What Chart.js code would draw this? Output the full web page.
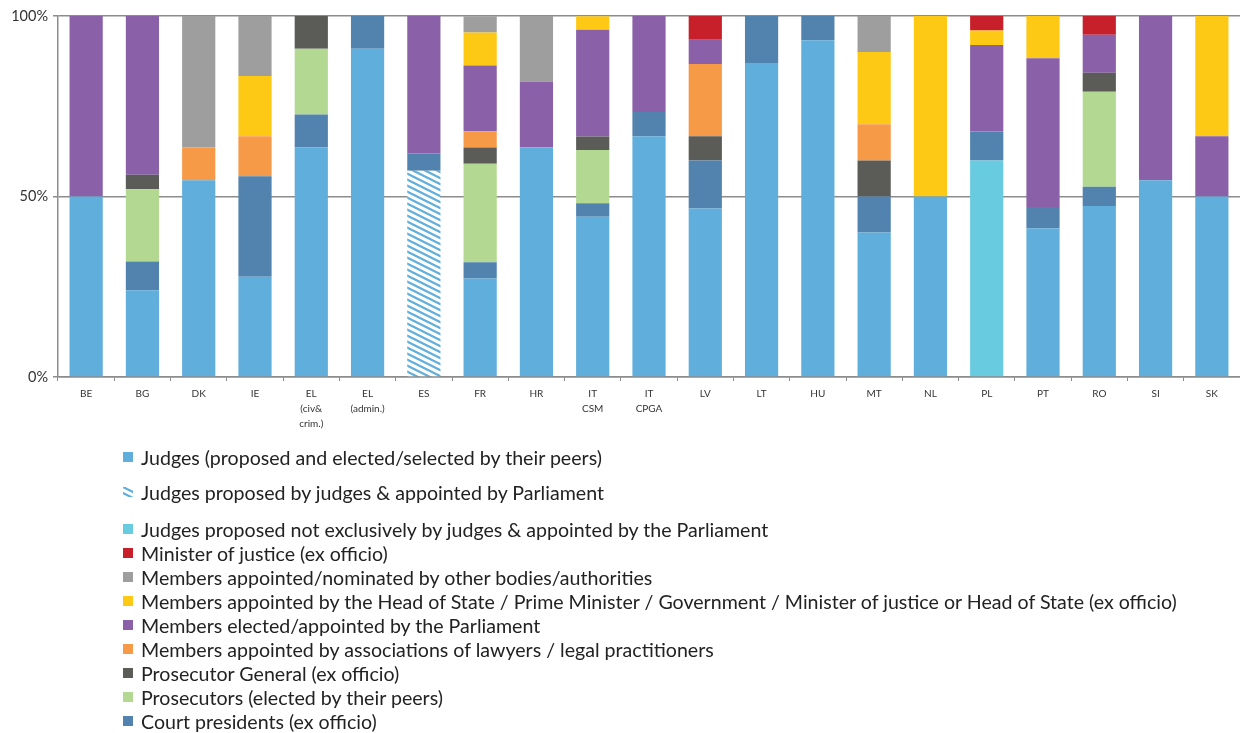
<!DOCTYPE html>
<html>
<head>
<meta charset="utf-8">
<title>Composition of Councils for the Judiciary</title>
<script src="https://cdn.jsdelivr.net/npm/chart.js@4.4.0/dist/chart.umd.min.js"></script>
<style>
  body { margin: 0; background: #fff; width: 1240px; height: 733px; overflow: hidden; font-family: Lato, 'Open Sans', sans-serif; }
  #wrap { position: absolute; left: 0; top: 0; width: 1240px; height: 440px; }
  #legend { position: absolute; left: 123px; top: 445px; margin: 0; padding: 0; list-style: none; }
  #legend li { height: 24px; font-size: 19.6px; color: #222; display: flex; align-items: center; white-space: nowrap; }
  #legend li canvas { margin-right: 8px; }
  #legend li:nth-child(1) { margin-bottom: 11px; }
  #legend li:nth-child(2) { margin-bottom: 13px; }
</style>
</head>
<body>
<div id="wrap"><canvas id="myChart" width="1240" height="440"></canvas></div>
<ul id="legend"></ul>
<script>
  // councils (x axis)
  const categories = ['BE', 'BG', 'DK', 'IE', ['EL', '(civ&', 'crim.)'], ['EL', '(admin.)'], 'ES', 'FR', 'HR',
    ['IT', 'CSM'], ['IT', 'CPGA'], 'LV', 'LT', 'HU', 'MT', 'NL', 'PL', 'PT', 'RO', 'SI', 'SK'];
  const yTicks = [0, 50, 100];

  // share of members per group, in % (same order as categories)
  //                        BE    BG    DK    IE    ELc   ELa   ES    FR    HR    ITcsm ITcpga LV   LT    HU    MT    NL    PL    PT    RO    SI    SK
  const judges =          [50,   24,   54.5, 27.8, 63.6, 90.9, 0,    27.3, 63.6, 44.4, 66.7, 46.7, 87,   93.3, 40,   50,   0,    41.2, 47.4, 54.5, 50];
  const judgesByParl =    [0,    0,    0,    0,    0,    0,    57.1, 0,    0,    0,    0,    0,    0,    0,    0,    0,    0,    0,    0,    0,    0];
  const judgesMixed =     [0,    0,    0,    0,    0,    0,    0,    0,    0,    0,    0,    0,    0,    0,    0,    0,    60,   0,    0,    0,    0];
  const courtPresidents = [0,    8,    0,    27.8, 9.1,  9.1,  4.8,  4.5,  0,    3.7,  6.7,  13.3, 13,   6.7,  10,   0,    8,    5.9,  5.3,  0,    0];
  const prosecutors =     [0,    20,   0,    0,    18.2, 0,    0,    27.3, 0,    14.8, 0,    0,    0,    0,    0,    0,    0,    0,    26.3, 0,    0];
  const prosecutorGen =   [0,    4,    0,    0,    9.1,  0,    0,    4.5,  0,    3.7,  0,    6.7,  0,    0,    10,   0,    0,    0,    5.3,  0,    0];
  const lawyers =         [0,    0,    9.1,  11.1, 0,    0,    0,    4.5,  0,    0,    0,    20,   0,    0,    10,   0,    0,    0,    0,    0,    0];
  const parliament =      [50,   44,   0,    0,    0,    0,    38.1, 18.2, 18.2, 29.6, 26.7, 6.7,  0,    0,    0,    0,    24,   41.2, 10.5, 45.5, 16.7];
  const headOfState =     [0,    0,    0,    16.7, 0,    0,    0,    9.1,  0,    3.7,  0,    0,    0,    0,    20,   50,   4,    11.8, 0,    0,    33.3];
  const otherBodies =     [0,    0,    36.4, 16.7, 0,    0,    0,    4.5,  18.2, 0,    0,    0,    0,    0,    10,   0,    0,    0,    0,    0,    0];
  const minister =        [0,    0,    0,    0,    0,    0,    0,    0,    0,    0,    0,    6.7,  0,    0,    0,    0,    4,    0,    5.3,  0,    0];

  // striped fill for judges proposed by judges & appointed by parliament
  function makeStripes(color) {
    const c = document.createElement('canvas');
    c.width = 12; c.height = 6;
    const g = c.getContext('2d');
    g.fillStyle = '#fff';
    g.fillRect(0, 0, 12, 6);
    g.strokeStyle = color;
    g.lineWidth = 2.2;
    [-6, 0, 6].forEach(function (off) {
      g.beginPath();
      g.moveTo(-2, off - 1);
      g.lineTo(14, off + 7);
      g.stroke();
    });
    return g.createPattern(c, 'repeat');
  }

  const blue = '#5faedb';

  // stacked bottom to top
  const datasets = [
    { label: 'Judges (proposed and elected/selected by their peers)', data: judges, backgroundColor: blue },
    { label: 'Judges proposed by judges & appointed by Parliament', data: judgesByParl, backgroundColor: makeStripes(blue) },
    { label: 'Judges proposed not exclusively by judges & appointed by the Parliament', data: judgesMixed, backgroundColor: '#69cbe0' },
    { label: 'Court presidents (ex officio)', data: courtPresidents, backgroundColor: '#5283af' },
    { label: 'Prosecutors (elected by their peers)', data: prosecutors, backgroundColor: '#b3d892' },
    { label: 'Prosecutor General (ex officio)', data: prosecutorGen, backgroundColor: '#5b5c58' },
    { label: 'Members appointed by associations of lawyers / legal practitioners', data: lawyers, backgroundColor: '#f79a48' },
    { label: 'Members elected/appointed by the Parliament', data: parliament, backgroundColor: '#8a60a8' },
    { label: 'Members appointed by the Head of State / Prime Minister / Government / Minister of justice or Head of State (ex officio)', data: headOfState, backgroundColor: '#fec914' },
    { label: 'Members appointed/nominated by other bodies/authorities', data: otherBodies, backgroundColor: '#9d9e9d' },
    { label: 'Minister of justice (ex officio)', data: minister, backgroundColor: '#c8202a' }
  ];
  datasets.forEach(function (d) {
    d.barPercentage = 0.59;
    d.categoryPercentage = 1;
    d.borderWidth = 0;
  });

  // legend lists the groups in a different order than the stack
  const legendOrder = [0, 1, 2, 10, 9, 8, 7, 6, 5, 4, 3];

  const ctx = document.getElementById('myChart').getContext('2d');
  const myChart = new Chart(ctx, {
    type: 'bar',
    data: { labels: categories, datasets: datasets },
    options: {
      responsive: false,
      animation: false,
      devicePixelRatio: 1,
      layout: { padding: { top: 16, right: 0, bottom: 0, left: 0 } },
      plugins: {
        legend: { display: false },
        tooltip: { enabled: false }
      },
      scales: {
        x: {
          stacked: true,
          offset: true,
          afterFit: function (scale) { scale.height = 63; },
          grid: { display: true, offset: true, drawOnChartArea: false, drawTicks: true, tickLength: 4, color: '#8c8c8c', lineWidth: 1 },
          border: { display: true, color: '#8c8c8c', width: 1.5 },
          ticks: {
            autoSkip: false, maxRotation: 0, padding: 5, color: '#333',
            font: { family: 'Lato, sans-serif', size: 10, lineHeight: 1.5 }
          }
        },
        y: {
          stacked: true,
          min: 0,
          max: 100,
          afterFit: function (scale) { scale.width = 58; },
          afterBuildTicks: function (scale) { scale.ticks = yTicks.map(function (v) { return { value: v }; }); },
          grid: { color: '#8c8c8c', lineWidth: 1.5, drawTicks: true, tickLength: 5 },
          border: { display: true, color: '#8c8c8c', width: 1.5 },
          ticks: {
            padding: 5, color: '#333',
            font: { family: 'Lato, sans-serif', size: 14.5 },
            callback: function (v) { return v + '%'; }
          }
        }
      }
    }
  });

  // html legend built from the chart's datasets
  const legendList = document.getElementById('legend');
  legendOrder.forEach(function (i) {
    const ds = myChart.data.datasets[i];
    const li = document.createElement('li');
    const sw = document.createElement('canvas');
    sw.width = 10; sw.height = 10;
    const sctx = sw.getContext('2d');
    sctx.fillStyle = ds.backgroundColor;
    sctx.fillRect(0, 0, 10, 10);
    li.appendChild(sw);
    li.appendChild(document.createTextNode(ds.label));
    legendList.appendChild(li);
  });
</script>
</body>
</html>
